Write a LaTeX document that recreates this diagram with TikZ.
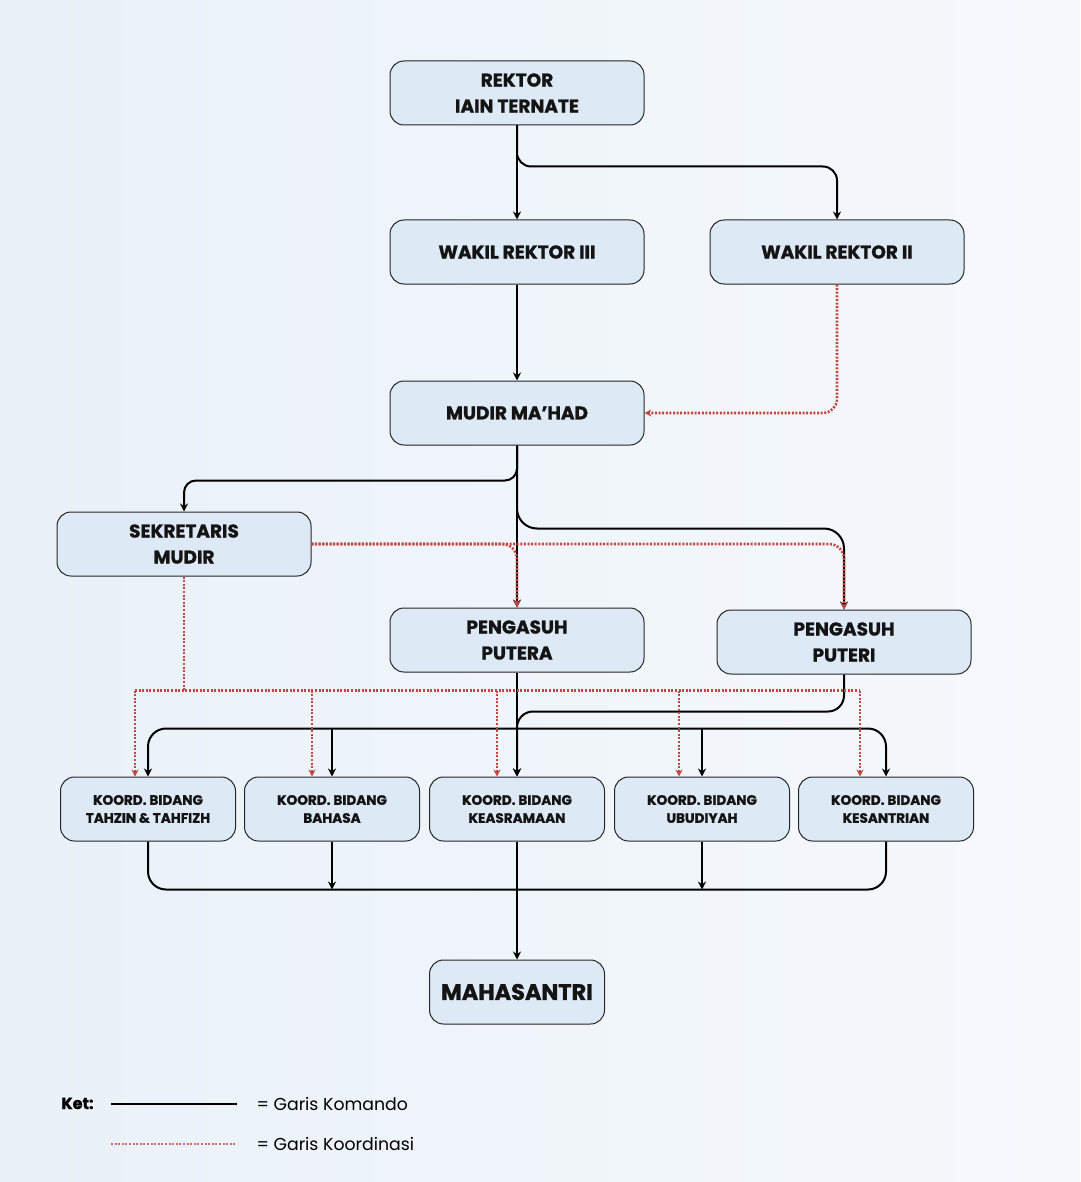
\documentclass[tikz,border=0pt]{standalone}
\usepackage{fontspec}
\setmainfont{Poppins}[BoldFeatures={FakeBold=1.2}]
\usetikzlibrary{arrows.meta,calc}

\definecolor{bgblue}{HTML}{E9F1F8}
\definecolor{bgwhite}{HTML}{F6F9FC}
\definecolor{boxfill}{HTML}{DDE9F5}
\definecolor{koorred}{HTML}{C4443F}

\begin{document}
\begin{tikzpicture}[x=1pt,y=-1pt,line width=1pt,
  orgbox/.style={draw=black!85,line width=1pt,fill=boxfill,rounded corners=14pt,
    minimum width=254pt,minimum height=64pt,align=center,text=black!92,
    font=\bfseries\fontsize{18.5}{26}\selectfont},
  kbox/.style={orgbox,minimum width=175pt,font=\bfseries\fontsize{13.6}{18}\selectfont},
  komandoline/.style={draw=black,line width=2pt},
  komando/.style={komandoline,-{Stealth[length=8pt,width=8pt]}},
  koordline/.style={draw=koorred,line width=2.6pt,dash pattern=on 2pt off 1.6pt},
  koordinasi/.style={koordline,-{Stealth[length=7pt,width=7pt]}}]
\useasboundingbox (0,0) rectangle (1080,1182);
\shade[left color=bgblue,right color=bgwhite] (0,0) rectangle (1080,1182);

% boxes
\node[orgbox] (rektor) at (517,93) {REKTOR\\IAIN TERNATE};
\node[orgbox] (wr3) at (517,252) {WAKIL REKTOR III};
\node[orgbox] (wr2) at (837,252) {WAKIL REKTOR II};
\node[orgbox] (mudir) at (517,413) {MUDIR MA’HAD};
\node[orgbox] (sekr) at (184,544) {SEKRETARIS\\MUDIR};
\node[orgbox] (putera) at (517,640) {PENGASUH\\PUTERA};
\node[orgbox] (puteri) at (844,642) {PENGASUH\\PUTERI};
\node[kbox] (koord1) at (148,809) {KOORD. BIDANG\\TAHZIN \& TAHFIZH};
\node[kbox] (koord2) at (332,809) {KOORD. BIDANG\\BAHASA};
\node[kbox] (koord3) at (517,809) {KOORD. BIDANG\\KEASRAMAAN};
\node[kbox] (koord4) at (702,809) {KOORD. BIDANG\\UBUDIYAH};
\node[kbox] (koord5) at (886,809) {KOORD. BIDANG\\KESANTRIAN};
\node[kbox,font=\bfseries\fontsize{22.4}{22}\selectfont] (santri) at (517,992) {MAHASANTRI};

% garis komando
\draw[komando] (rektor) -- (wr3);
\draw[komando,rounded corners=14pt] (rektor.south) -- ++(0,41) -| (wr2.north);
\draw[komando] (wr3) -- (mudir);
\draw[komando,rounded corners=12pt] (mudir.south) -- ++(0,35) -| (sekr.north);
\draw[komando,rounded corners=20pt] (mudir.south) -- ++(0,83) -| (puteri.north);
\draw[komando] (mudir) -- (putera);
\draw[komando] (putera) -- (koord3);
\draw[komando,rounded corners=16pt] (puteri.south) |- ($(koord3.north)+(0,-65)$) -- (koord3.north);

\coordinate (bus) at ($(koord3.north)+(0,-48)$);
\draw[komando,rounded corners=18pt] (bus) -| (koord1.north);
\draw[komando,rounded corners=18pt] (bus) -| (koord5.north);
\foreach \k in {koord2,koord4}
  \draw[komando] (\k.north |- bus) -- (\k.north);

\coordinate (lowbus) at ($(koord3.south)+(0,48)$);
\draw[komandoline,rounded corners=18pt] (koord1.south) |- (lowbus) -| (koord5.south);
\foreach \k in {koord2,koord4}
  \draw[komando] (\k.south) -- (\k.south |- lowbus);
\draw[komando] (koord3) -- (santri);

% garis koordinasi
\draw[koordinasi,rounded corners=14pt] (wr2.south) |- (mudir.east);
\draw[koordinasi,rounded corners=15pt] (sekr.east) -| (putera.north);
\draw[koordinasi,rounded corners=15pt] (sekr.east) -| (puteri.north);

\coordinate (kbus) at ($(koord3.north)+(0,-86)$);
\draw[koordline] (sekr.south) -- (sekr.south |- kbus);
\draw[koordline] ($(koord1.north |- kbus)+(-13,0)$) -- ($(koord5.north |- kbus)+(-26,0)$);
\foreach \k/\dx in {koord1/-13,koord2/-20,koord3/-20,koord4/-23,koord5/-26}
  \draw[koordinasi] ($(\k.north |- kbus)+(\dx,0)$) -- ($(\k.north)+(\dx,0)$);

% keterangan
\node[anchor=base west,inner sep=0pt,font=\bfseries\fontsize{16}{16}\selectfont] (ket) at (61,1109) {Ket:};
\coordinate (lk1) at (111,1104);
\coordinate (lk2) at (237,1104);
\coordinate (lr1) at (111,1144);
\coordinate (lr2) at (237,1144);
\draw[komandoline] (lk1) -- (lk2);
\draw[koordline,line width=1.4pt,draw=koorred!80] (lr1) -- (lr2);
\node[anchor=base west,inner sep=0pt,font=\fontsize{17.3}{17.3}\selectfont] (lkt) at (256,1110) {= Garis Komando};
\node[anchor=base west,inner sep=0pt,font=\fontsize{17.3}{17.3}\selectfont] (lrt) at (256,1150) {= Garis Koordinasi};
\end{tikzpicture}
\end{document}
